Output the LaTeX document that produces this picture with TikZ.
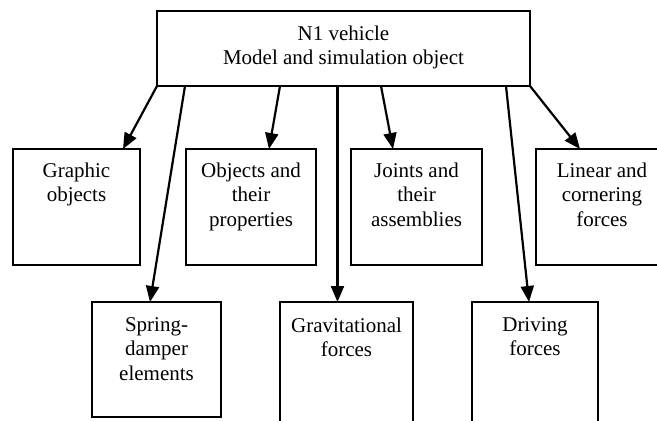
\documentclass[tikz,border=0pt]{standalone}
\usepackage{fontspec}
\setmainfont{Liberation Serif}
\usetikzlibrary{arrows.meta}
\tikzset{
  box/.style={draw=black, line width=2pt, rectangle, inner sep=0pt, outer sep=0pt, fill=none},
  lbl/.style={anchor=north, inner sep=0pt, outer sep=0pt, align=center, font=\fontsize{21}{24.5}\selectfont},
  arr/.style={line width=2.2pt, -{Triangle[length=16pt,width=13pt]}},
  ln/.style={line width=2.2pt}
}
\begin{document}
\begin{tikzpicture}[x=1pt,y=-1pt]
\useasboundingbox (0,0) rectangle (657,421);
% top box
\node[box, minimum width=373pt, minimum height=75pt] (top) at (343.5,48.5) {};
\node[lbl] (toptxt) at (343.5,25.5) {N1 vehicle\\Model and simulation object};
% row 1
\node[box, minimum width=127pt, minimum height=116pt] (gra) at (76.5,207) {};
\node[box, minimum width=130pt, minimum height=116pt] (obj) at (251,207) {};
\node[box, minimum width=131pt, minimum height=116pt] (joi) at (416.5,207) {};
\node[box, minimum width=132pt, minimum height=116pt] (lin) at (602,207) {};
\node[lbl] (gratxt) at (76.5,162.5) {Graphic\\objects};
\node[lbl] (objtxt) at (251,162.5) {Objects and\\their\\properties};
\node[lbl] (joitxt) at (416.5,162.5) {Joints and\\their\\assemblies};
\node[lbl] (lintxt) at (602,162.5) {Linear and\\cornering\\forces};
% row 2
\node[box, minimum width=129pt, minimum height=115pt] (spr) at (156.5,359.5) {};
\node[box, minimum width=133pt, minimum height=140pt] (grv) at (346.5,372) {};
\node[box, minimum width=126pt, minimum height=140pt] (drv) at (535,372) {};
\node[lbl] (sprtxt) at (156.5,317.5) {Spring-\\damper\\elements};
\node[lbl] (grvtxt) at (346.5,317.5) {Gravitational\\forces};
\node[lbl] (drvtxt) at (535,317.5) {Driving\\forces};
% connectors
\draw[arr] (top.south west) -- ([xshift=110pt]gra.north west);
\draw[arr] ([xshift=28pt]top.south west) -- ([xshift=58pt]spr.north west);
\draw[arr] ([xshift=123pt]top.south west) -- ([xshift=83pt]obj.north west);
\draw[arr] ([xshift=180.5pt]top.south west) -- ([xshift=57.5pt]grv.north west);
\draw[arr] ([xshift=224pt]top.south west) -- ([xshift=42pt]joi.north west);
\draw[arr] ([xshift=349pt]top.south west) -- ([xshift=57pt]drv.north west);
\draw[arr] (top.south east) -- ([xshift=44pt]lin.north west);
\end{tikzpicture}
\end{document}
